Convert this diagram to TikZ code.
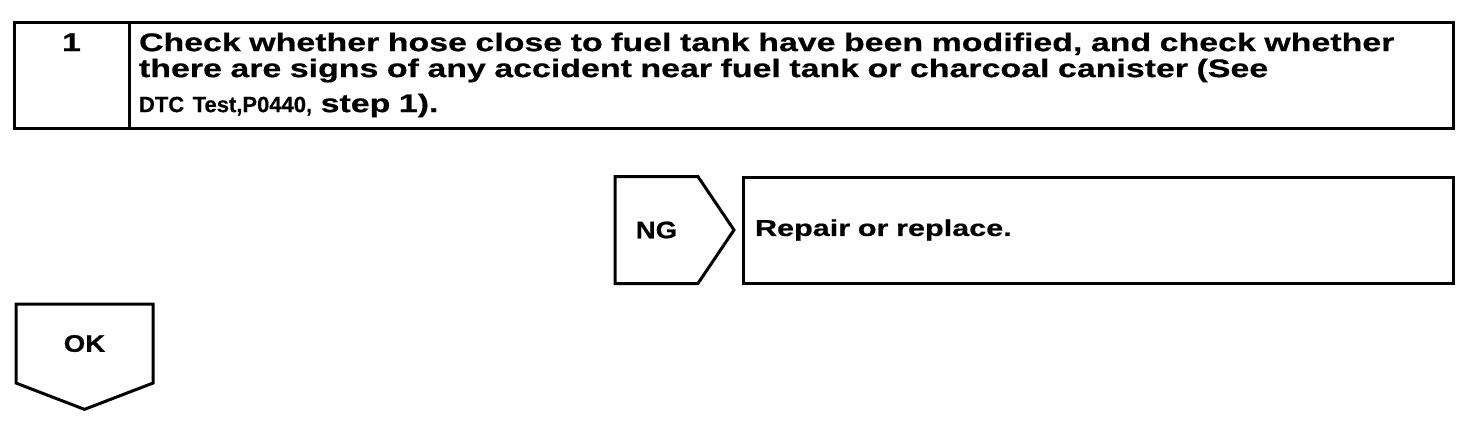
\documentclass[tikz,border=0pt]{standalone}
\usepackage{fontspec}
\setmainfont{Liberation Sans}
\newfontfamily\manualfont[FakeStretch=1.33, BoldFeatures={FakeBold=0.6}]{Liberation Sans}
\newfontfamily\dtcfont[FakeStretch=1.0, BoldFeatures={FakeBold=0.5}]{Liberation Sans}
\newfontfamily\tagfont[FakeStretch=1.15, BoldFeatures={FakeBold=0.6}]{Liberation Sans}
\usetikzlibrary{shapes.symbols,positioning}

\begin{document}
\begin{tikzpicture}[x=1pt, y=-1pt, line width=3pt,
  cell/.style={draw, rectangle, inner sep=0pt, outer sep=0pt},
  tag/.style={draw, signal, inner sep=0pt, outer sep=0pt, font=\tagfont\bfseries\fontsize{24}{26}\selectfont},
  txt/.style={font=\manualfont\bfseries\fontsize{25.5}{26}\selectfont}]
\useasboundingbox (0,0) rectangle (1472,426);
% step 1 header
\node[cell, txt, anchor=north west, minimum width=115, text height=29, text depth=77] (num) at (14,22) {1};
\node[cell, txt, right=0pt of num, minimum width=1324, minimum height=106, text width=1304, align=left, inner xsep=9pt] (check) {Check whether hose close to fuel tank have been modified, and check whether\\
there are signs of any accident near fuel tank or charcoal canister (See\\[9pt]
{\dtcfont\bfseries\fontsize{22}{24}\selectfont DTC Test,P0440,} step 1).};
% NG branch
\node[tag, signal to=east, signal pointer angle=112, minimum width=119, minimum height=107, anchor=west] (ng) at (615,230) {NG};
\node[cell, txt, right=9pt of ng, minimum width=710, minimum height=106, text width=686, align=left, inner xsep=12pt, font=\manualfont\bfseries\fontsize{23}{26}\selectfont] (fix) {Repair or replace.};
% OK branch
\node[tag, signal to=south, signal pointer angle=138, minimum width=137, minimum height=87, anchor=north west] (ok) at (16,304) {OK};
\end{tikzpicture}
\end{document}
